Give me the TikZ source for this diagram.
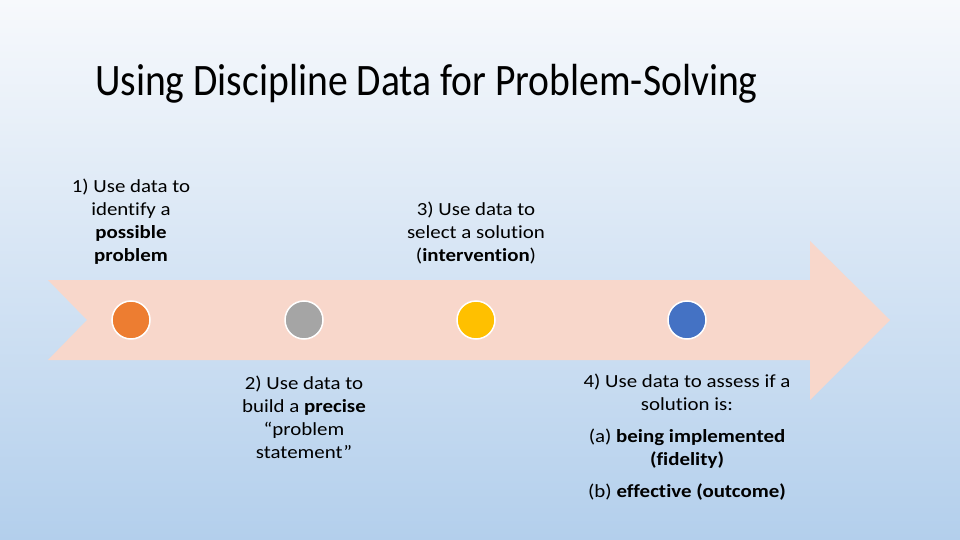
\documentclass[tikz,border=0pt]{standalone}
\usepackage{fontspec}
\setmainfont{Carlito}
\newfontfamily\bodyfont{Carlito}[FakeStretch=1.13, Ligatures=NoCommon]
\newfontfamily\titlefont{Carlito}[FakeStretch=0.88, Ligatures=NoCommon]
\usetikzlibrary{shadings}
\definecolor{bgtop}{HTML}{F7F9FC}
\definecolor{bgbot}{HTML}{B3CFEC}
\definecolor{arrowfill}{HTML}{F8D7CB}
\definecolor{corange}{HTML}{ED7D31}
\definecolor{cgray}{HTML}{A5A5A5}
\definecolor{cyellow}{HTML}{FFC000}
\definecolor{cblue}{HTML}{4472C4}
\tikzset{
  dot/.style={circle, minimum size=38pt, inner sep=0pt, draw=white, line width=1.5pt},
  lbl/.style={align=center, font=\bodyfont\fontsize{18.5}{23}\selectfont, text=black, inner sep=0pt},
  ttl/.style={font=\titlefont\fontsize{45}{50}\selectfont, text=black, inner sep=0pt, anchor=base west}
}
\begin{document}
\begin{tikzpicture}[x=1pt,y=-1pt]
\useasboundingbox (0,0) rectangle (960,540);
\shade[top color=bgtop, bottom color=bgbot] (0,0) rectangle (960,540);
% big arrow
\fill[arrowfill] (48,280) -- (810,280) -- (810,241) -- (890,320) -- (810,400) -- (810,360) -- (48,360) -- (87,320) -- cycle;
% title
\node[ttl] (title) at (95,96) {Using Discipline Data for Problem-Solving};
% dots
\node[dot, fill=corange] (d1) at (131,320) {};
\node[dot, fill=cgray] (d2) at (304,320) {};
\node[dot, fill=cyellow] (d3) at (476,320) {};
\node[dot, fill=cblue] (d4) at (687,320) {};
% labels
\node[lbl] (t1) at (131,222) {1) Use data to\\identify a\\\textbf{possible}\\\textbf{problem}};
\node[lbl] (t3) at (476,233) {3) Use data to\\select a solution\\(\textbf{intervention})};
\node[lbl] (t2) at (304,417) {2) Use data to\\build a \textbf{precise}\\“problem\\statement”};
\node[lbl] (t4) at (687,437) {4) Use data to assess if a\\solution is:\\[9pt](a) \textbf{being implemented}\\\textbf{(fidelity)}\\[9pt](b) \textbf{effective (outcome)}};
\end{tikzpicture}
\end{document}
